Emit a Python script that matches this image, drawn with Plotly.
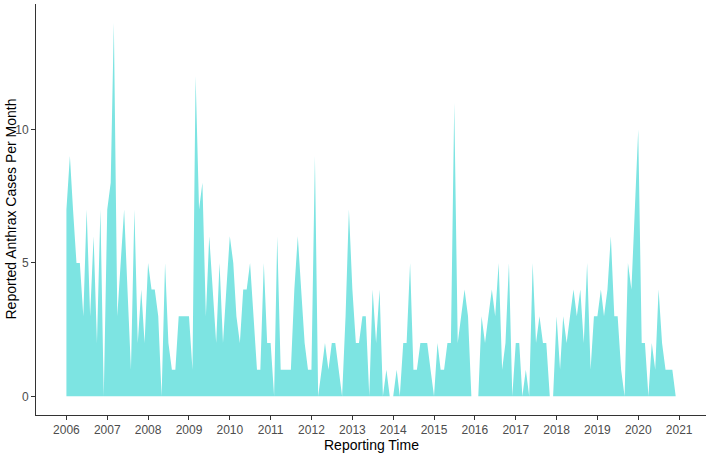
import plotly.graph_objects as go
import pandas as pd

# Monthly reported anthrax cases, Jan 2006 - Dec 2020
cases_2006 = [7, 9, 7, 5, 5, 3, 7, 3, 6, 2, 7, 0]
cases_2007 = [7, 8, 14, 3, 5, 7, 4, 1, 7, 2, 4, 2]
cases_2008 = [5, 4, 4, 3, 0, 5, 2, 1, 1, 3, 3, 3]
cases_2009 = [3, 1, 12, 7, 8, 3, 6, 4, 2, 5, 2, 4]
cases_2010 = [6, 5, 3, 2, 4, 4, 5, 3, 1, 1, 5, 2]
cases_2011 = [2, 0, 6, 1, 1, 1, 1, 4, 6, 4, 2, 1]
cases_2012 = [1, 9, 0, 1, 2, 1, 2, 2, 1, 0, 3, 7]
cases_2013 = [4, 2, 2, 3, 3, 0, 4, 2, 4, 0, 1, 0]
cases_2014 = [0, 1, 0, 2, 2, 5, 1, 1, 2, 2, 2, 1]
cases_2015 = [0, 2, 1, 1, 2, 2, 11, 2, 3, 4, 3, 0]
cases_2016 = [0, 0, 3, 2, 3, 4, 3, 5, 1, 2, 5, 0]
cases_2017 = [2, 2, 0, 1, 0, 5, 2, 3, 2, 2, 0, 0]
cases_2018 = [3, 1, 3, 2, 3, 4, 3, 4, 2, 5, 1, 3]
cases_2019 = [3, 4, 3, 4, 6, 3, 3, 1, 0, 5, 4, 7]
cases_2020 = [10, 2, 2, 0, 2, 1, 4, 2, 1, 1, 1, 0]

cases = (cases_2006 + cases_2007 + cases_2008 + cases_2009 + cases_2010 +
         cases_2011 + cases_2012 + cases_2013 + cases_2014 + cases_2015 +
         cases_2016 + cases_2017 + cases_2018 + cases_2019 + cases_2020)

months = pd.date_range("2006-01-01", periods=len(cases), freq="MS")

year_labels = [str(y) for y in range(2006, 2022)]
year_ticks = [f"{y}-01-01" for y in year_labels]
y_ticks = [0, 5, 10]

FONT = "Liberation Sans, Arial, sans-serif"

fig = go.Figure()
fig.add_trace(go.Scatter(
    x=months, y=cases, mode="lines",
    line=dict(width=0, color="rgb(125,228,226)"),
    fill="tozeroy", fillcolor="rgb(125,228,226)",
    showlegend=False, hoverinfo="x+y",
))

axis_common = dict(
    showgrid=False, zeroline=False, automargin=False,
    showline=True, linecolor="#333333", linewidth=1,
    ticks="outside", ticklen=4, tickcolor="#333333", tickwidth=1,
    tickfont=dict(family=FONT, size=12, color="#4D4D4D"),
)

fig.update_xaxes(
    **axis_common,
    type="date",
    range=["2005-04-04", "2021-08-29"],
    tickvals=year_ticks, ticktext=year_labels,
)
fig.update_yaxes(
    **axis_common,
    range=[-0.7, 14.7],
    tickvals=y_ticks, ticktext=[str(v) for v in y_ticks],
)

fig.update_layout(
    width=708, height=454,
    margin=dict(l=36, r=2, t=4, b=39),
    plot_bgcolor="white", paper_bgcolor="white",
    font=dict(family=FONT),
    annotations=[
        dict(text="Reporting Time", xref="paper", yref="paper",
             x=0.5, y=0, yshift=-20, xanchor="center", yanchor="top",
             showarrow=False, font=dict(family=FONT, size=14, color="#000000")),
        dict(text="Reported Anthrax Cases Per Month", xref="paper", yref="paper",
             x=0, y=0.5, xshift=-16, xanchor="right", yanchor="middle", textangle=-90,
             showarrow=False, font=dict(family=FONT, size=14, color="#000000")),
    ],
)

fig.write_html("out.html", config={"displayModeBar": False},
               post_script="document.body.style.margin='0px';")
